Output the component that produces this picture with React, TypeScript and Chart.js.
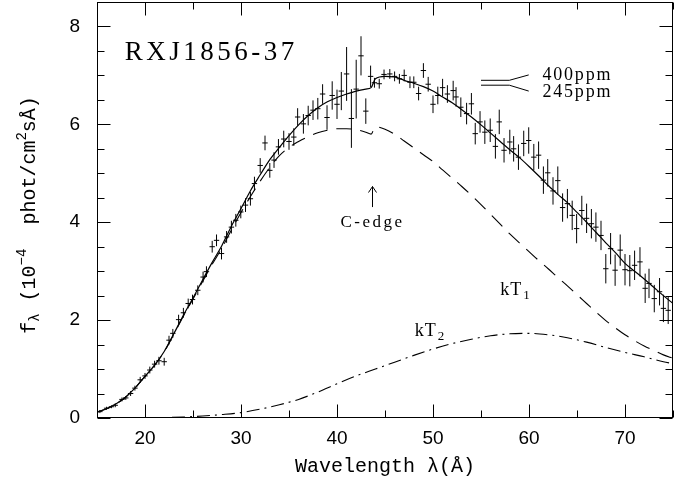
import React, { useEffect, useRef } from 'react';
import { Chart, registerables } from 'chart.js';

Chart.register(...registerables);

// ---- Model curves (wavelength in Å, flux in 1e-4 phot/cm2/s/Å) ----
const modelX = [15, 16, 17, 18, 19, 20, 21, 22, 23, 24, 25, 26, 27, 28, 29, 30, 31, 32, 33, 34, 35, 36, 37, 38, 39, 40, 41, 42, 43, 43.55, 44, 45, 46, 47, 48, 49, 50, 51, 52, 53, 54, 55, 56, 57, 58, 59, 60, 61, 62, 63, 64, 65, 66, 67, 68, 69, 70, 71, 72, 73, 74, 75];
const modelY = [0.12, 0.19, 0.29, 0.43, 0.62, 0.85, 1.08, 1.36, 1.72, 2.1, 2.45, 2.82, 3.18, 3.52, 3.92, 4.28, 4.65, 4.97, 5.28, 5.53, 5.77, 5.99, 6.18, 6.34, 6.46, 6.55, 6.62, 6.68, 6.72, 6.75, 6.93, 6.98, 6.97, 6.9, 6.84, 6.77, 6.68, 6.56, 6.44, 6.3, 6.15, 5.99, 5.82, 5.65, 5.48, 5.32, 5.14, 4.95, 4.75, 4.57, 4.4, 4.2, 4.0, 3.79, 3.58, 3.38, 3.16, 3.0, 2.84, 2.67, 2.5, 2.34];

const kT1X = [15, 16, 17, 18, 19, 20, 21, 22, 23, 24, 25, 26, 27, 28, 29, 30, 31, 32, 33, 34, 35, 36, 37, 38, 39, 40, 41, 42, 43, 43.55, 44, 45, 46, 47, 48, 49, 50, 51, 52, 53, 54, 55, 56, 57, 58, 59, 60, 61, 62, 63, 64, 65, 66, 67, 68, 69, 70, 71, 72, 73, 74, 75];
const kT1Y = [0.12, 0.19, 0.29, 0.43, 0.62, 0.85, 1.08, 1.35, 1.71, 2.08, 2.43, 2.79, 3.14, 3.47, 3.84, 4.2, 4.53, 4.84, 5.12, 5.36, 5.53, 5.65, 5.75, 5.83, 5.88, 5.91, 5.91, 5.89, 5.84, 5.8, 5.95, 5.9, 5.8, 5.66, 5.52, 5.38, 5.24, 5.07, 4.9, 4.73, 4.55, 4.36, 4.16, 3.96, 3.76, 3.58, 3.4, 3.22, 3.05, 2.87, 2.7, 2.52, 2.34, 2.16, 1.99, 1.84, 1.7, 1.58, 1.47, 1.38, 1.29, 1.22];

const kT2X = [15, 18, 20, 22, 24, 26, 28, 30, 32, 34, 36, 38, 40, 42, 44, 46, 48, 50, 52, 54, 56, 58, 60, 62, 64, 66, 68, 70, 72, 74, 75];
const kT2Y = [0, 0, 0.002, 0.008, 0.02, 0.04, 0.07, 0.11, 0.18, 0.27, 0.38, 0.53, 0.7, 0.86, 1.0, 1.14, 1.28, 1.41, 1.52, 1.61, 1.68, 1.72, 1.73, 1.7, 1.64, 1.55, 1.44, 1.34, 1.25, 1.15, 1.11];

// ---- Observed spectrum (bin centre, flux, 1-sigma error) ----
const obsX = [15.3, 16.0, 16.5, 16.9, 17.6, 18.0, 18.5, 18.95, 19.5, 20.0, 20.5, 21.0, 21.45, 22.0, 22.5, 22.9, 23.5, 24.0, 24.5, 24.95, 25.5, 26.05, 26.4, 27.0, 27.45, 27.97, 28.5, 29.0, 29.46, 29.98, 30.47, 30.98, 31.4, 32.0, 32.5, 33.0, 33.44, 33.9, 34.45, 35.0, 35.5, 35.9, 36.5, 37.0, 37.5, 38.0, 38.5, 38.96, 39.5, 40.0, 40.45, 41.0, 41.5, 42.0, 42.5, 43.0, 43.5, 43.9, 44.4, 44.9, 45.5, 46.0, 46.5, 47.0, 47.6, 48.0, 48.5, 49.0, 49.5, 50.0, 50.5, 51.0, 51.5, 52.1, 52.4, 52.9, 53.5, 54.0, 54.4, 54.9, 55.4, 55.96, 56.5, 56.9, 57.4, 58.0, 58.4, 58.9, 59.45, 59.97, 60.5, 61.0, 61.5, 61.95, 62.5, 63.0, 63.5, 64.0, 64.5, 64.96, 65.5, 66.0, 66.5, 66.97, 67.5, 68.0, 68.5, 68.97, 69.5, 70.0, 70.5, 71.0, 71.56, 72.1, 72.5, 73.05, 73.6, 74.0, 74.5];
const obsY = [0.13, 0.2, 0.23, 0.26, 0.38, 0.41, 0.5, 0.61, 0.78, 0.86, 0.98, 1.1, 1.17, 1.15, 1.59, 1.73, 2.01, 2.15, 2.34, 2.42, 2.61, 2.88, 2.99, 3.5, 3.63, 3.36, 3.7, 3.9, 4.04, 4.21, 4.35, 4.48, 4.79, 5.16, 5.62, 5.06, 5.27, 5.54, 5.7, 5.65, 5.74, 6.15, 6.01, 6.18, 6.29, 6.32, 6.62, 6.14, 6.59, 6.41, 6.68, 7.03, 6.12, 6.72, 7.4, 6.27, 6.98, 6.85, 6.83, 7.02, 7.03, 6.98, 6.93, 7.0, 6.86, 6.86, 6.63, 7.1, 6.82, 6.41, 6.59, 6.75, 6.62, 6.69, 6.56, 6.35, 6.22, 6.42, 5.81, 6.05, 5.84, 5.88, 5.55, 6.05, 5.47, 5.64, 5.5, 5.33, 5.61, 5.67, 5.33, 5.37, 4.86, 5.01, 4.64, 4.85, 4.3, 4.38, 4.14, 3.87, 4.24, 4.08, 3.97, 3.9, 3.73, 3.05, 3.46, 3.02, 3.43, 3.03, 3.01, 3.12, 3.19, 2.65, 2.75, 2.44, 2.58, 2.24, 2.2];
const obsErr = [0.03, 0.03, 0.03, 0.04, 0.04, 0.04, 0.05, 0.05, 0.06, 0.06, 0.07, 0.07, 0.08, 0.08, 0.09, 0.09, 0.1, 0.1, 0.1, 0.1, 0.1, 0.11, 0.11, 0.12, 0.12, 0.12, 0.12, 0.13, 0.13, 0.13, 0.14, 0.14, 0.14, 0.15, 0.15, 0.15, 0.16, 0.16, 0.17, 0.17, 0.18, 0.18, 0.2, 0.2, 0.2, 0.22, 0.2, 0.25, 0.29, 0.3, 0.39, 0.55, 0.6, 0.6, 0.4, 0.26, 0.22, 0.1, 0.1, 0.1, 0.1, 0.1, 0.1, 0.12, 0.12, 0.12, 0.14, 0.15, 0.15, 0.18, 0.18, 0.18, 0.18, 0.2, 0.2, 0.2, 0.22, 0.22, 0.22, 0.22, 0.24, 0.24, 0.25, 0.25, 0.25, 0.25, 0.26, 0.26, 0.26, 0.27, 0.27, 0.28, 0.28, 0.28, 0.28, 0.29, 0.29, 0.3, 0.3, 0.3, 0.3, 0.3, 0.3, 0.3, 0.3, 0.3, 0.32, 0.32, 0.32, 0.32, 0.32, 0.3, 0.3, 0.3, 0.3, 0.28, 0.28, 0.28, 0.28];
const binHalfWidth = 0.28;

// ---- Legend pointers for the two model lines ----
const pointerX = [55.0, 57.95, 59.97];
const pointer400Y = [6.9, 6.9, 7.01];
const pointer245Y = [6.8, 6.8, 6.68];
const pointerLabels = ['400ppm', '245ppm'];

// ---- Axes ----
const xTicks = [20, 30, 40, 50, 60, 70];
const yTicks = [0, 2, 4, 6, 8];
const xRange = [15, 75];
const yRange = [0, 8.5];

const objectName = 'RXJ1856-37';
const edgeLabel = 'C-edge';
const xTitle = 'Wavelength λ(Å)';

const pts = (xs: number[], ys: number[]) => xs.map((x, i) => ({ x, y: ys[i] }));

function verticalBars() {
  const out: { x: number; y: number | null }[] = [];
  obsX.forEach((x, i) => {
    out.push({ x, y: obsY[i] - obsErr[i] });
    out.push({ x, y: obsY[i] + obsErr[i] });
    out.push({ x, y: null });
  });
  return out;
}
function horizontalBars() {
  const out: { x: number; y: number | null }[] = [];
  obsX.forEach((x, i) => {
    out.push({ x: x - binHalfWidth, y: obsY[i] });
    out.push({ x: x + binHalfWidth, y: obsY[i] });
    out.push({ x, y: null });
  });
  return out;
}

const frameTicks = {
  id: 'frameTicks',
  afterDraw(chart: any) {
    const { ctx, chartArea: a, scales } = chart;
    const xs = scales.x;
    const ys = scales.y;
    ctx.save();
    ctx.strokeStyle = '#000';
    ctx.lineWidth = 1;
    const L = Math.round(a.left) + 0.5;
    const R = Math.round(a.right) - 0.5;
    const T = Math.round(a.top) + 0.5;
    const B = Math.round(a.bottom) - 0.5;
    ctx.strokeRect(L, T, R - L, B - T);
    ctx.beginPath();
    for (let v = xRange[0]; v <= xRange[1] + 1e-6; v += 5) {
      const p = Math.round(xs.getPixelForValue(v)) + 0.5;
      const len = v % 10 === 0 ? 13 : 7;
      ctx.moveTo(p, B); ctx.lineTo(p, B - len);
      ctx.moveTo(p, T); ctx.lineTo(p, T + len);
    }
    for (let v = yRange[0]; v <= yRange[1] + 1e-6; v += 0.5) {
      const p = Math.round(ys.getPixelForValue(v)) + 0.5;
      const len = Math.abs(v % 2) < 1e-6 ? 13 : 7;
      ctx.moveTo(L, p); ctx.lineTo(L + len, p);
      ctx.moveTo(R, p); ctx.lineTo(R - len, p);
    }
    ctx.stroke();
    ctx.restore();
  },
};

const annotations = {
  id: 'annotations',
  afterDatasetsDraw(chart: any) {
    const { ctx, scales } = chart;
    const px = (v: number) => scales.x.getPixelForValue(v);
    const py = (v: number) => scales.y.getPixelForValue(v);
    ctx.save();
    ctx.fillStyle = '#000';
    ctx.strokeStyle = '#000';
    ctx.textAlign = 'left';
    ctx.textBaseline = 'alphabetic';

    // object name
    ctx.font = '27px "Liberation Serif"';
    (ctx as any).letterSpacing = '3.5px';
    ctx.fillText(objectName, px(17.9), py(7.31));

    // legend pointer labels
    ctx.font = '18px "Liberation Serif"';
    (ctx as any).letterSpacing = '1.8px';
    ctx.textBaseline = 'middle';
    ctx.fillText(pointerLabels[0], px(61.4), py(7.0));
    ctx.fillText(pointerLabels[1], px(61.4), py(6.66));

    // C-edge
    ctx.textAlign = 'center';
    ctx.font = '17px "Liberation Serif"';
    (ctx as any).letterSpacing = '2.5px';
    ctx.fillText(edgeLabel, px(43.6) + 1, py(4.0));
    (ctx as any).letterSpacing = '0px';

    // arrow
    ctx.lineWidth = 1;
    const ax = Math.round(px(43.6)) + 0.5;
    const y0 = py(4.31);
    const y1 = py(4.73);
    ctx.beginPath();
    ctx.moveTo(ax, y0); ctx.lineTo(ax, y1);
    ctx.moveTo(ax - 4, y1 + 6); ctx.lineTo(ax, y1); ctx.lineTo(ax + 4, y1 + 6);
    ctx.stroke();

    // kT labels
    const kt = (sub: string, x: number, y: number) => {
      ctx.textAlign = 'left';
      ctx.textBaseline = 'alphabetic';
      ctx.font = '18px "Liberation Serif"';
      (ctx as any).letterSpacing = '1px';
      const X = px(x);
      const Y = py(y);
      ctx.fillText('kT', X, Y);
      const w = ctx.measureText('kT').width;
      ctx.font = '13px "Liberation Serif"';
      ctx.fillText(sub, X + w + 1, Y + 4);
      (ctx as any).letterSpacing = '0px';
    };
    kt('1', 57.0, 2.51);
    kt('2', 48.1, 1.67);

    ctx.restore();
  },
};

const yTitle = {
  id: 'yTitle',
  afterDraw(chart: any) {
    const { ctx } = chart;
    const big = '20px "Liberation Mono"';
    const small = '14px "Liberation Mono"';
    const pieces = [
      { t: 'f', f: big, dy: 0 },
      { t: 'λ', f: small, dy: 5 },
      { t: ' (10', f: big, dy: 0 },
      { t: '−4', f: small, dy: -8 },
      { t: '  phot/cm', f: big, dy: 0 },
      { t: '2', f: small, dy: -8 },
      { t: 'sÅ)', f: big, dy: 0 },
    ];
    ctx.save();
    ctx.fillStyle = '#000';
    ctx.textBaseline = 'middle';
    ctx.textAlign = 'left';
    let total = 0;
    pieces.forEach((p) => { ctx.font = p.f; total += ctx.measureText(p.t).width; });
    ctx.translate(30, 215);
    ctx.rotate(-Math.PI / 2);
    let cx = -total / 2;
    pieces.forEach((p) => {
      ctx.font = p.f;
      ctx.fillText(p.t, cx, p.dy);
      cx += ctx.measureText(p.t).width;
    });
    ctx.restore();
  },
};

export default function App() {
  const ref = useRef<HTMLCanvasElement | null>(null);
  useEffect(() => {
    if (!ref.current) return;
    const common = { pointRadius: 0, pointHoverRadius: 0, fill: false, borderColor: '#000' };
    const chart = new Chart(ref.current, {
      type: 'line',
      data: {
        datasets: [
          { ...common, label: 'total', data: pts(modelX, modelY), borderWidth: 1.2, cubicInterpolationMode: 'monotone' },
          { ...common, label: 'kT1', data: pts(kT1X, kT1Y), borderWidth: 1.1, borderDash: [15, 9], cubicInterpolationMode: 'monotone' },
          { ...common, label: 'kT2', data: pts(kT2X, kT2Y), borderWidth: 1.1, borderDash: [13, 5, 2, 5], cubicInterpolationMode: 'monotone' },
          { ...common, label: 'errY', data: verticalBars(), borderWidth: 1, spanGaps: false, tension: 0 },
          { ...common, label: 'errX', data: horizontalBars(), borderWidth: 1, spanGaps: false, tension: 0 },
          { ...common, label: '400ppm', data: pts(pointerX, pointer400Y), borderWidth: 1, tension: 0 },
          { ...common, label: '245ppm', data: pts(pointerX, pointer245Y), borderWidth: 1, tension: 0 },
        ] as any,
      },
      options: {
        animation: false,
        responsive: false,
        devicePixelRatio: 1,
        events: [],
        layout: { padding: { top: 2, right: 14, left: 0, bottom: 0 } },
        plugins: { legend: { display: false }, tooltip: { enabled: false }, title: { display: false } },
        scales: {
          x: {
            type: 'linear',
            min: xRange[0],
            max: xRange[1],
            grid: { display: false, drawTicks: false },
            border: { display: false },
            ticks: { padding: 9, color: '#000', font: { family: 'Liberation Sans', size: 19 }, maxRotation: 0 },
            afterBuildTicks: (s: any) => { s.ticks = xTicks.map((value) => ({ value })); },
            afterFit: (s: any) => { s.height = 67; s.paddingLeft = 0; s.paddingRight = 0; },
            title: { display: true, text: xTitle, color: '#000', font: { family: 'Liberation Mono', size: 20 }, padding: { top: 0, bottom: 6 } },
          },
          y: {
            type: 'linear',
            min: yRange[0],
            max: yRange[1],
            grid: { display: false, drawTicks: false },
            border: { display: false },
            ticks: { padding: 17, color: '#000', font: { family: 'Liberation Sans', size: 19 } },
            afterBuildTicks: (s: any) => { s.ticks = yTicks.map((value) => ({ value })); },
            afterFit: (s: any) => { s.width = 97; s.paddingTop = 0; s.paddingBottom = 0; },
          },
        },
      } as any,
      plugins: [annotations, frameTicks, yTitle],
    });
    return () => chart.destroy();
  }, []);
  return (
    <div style={{ position: 'absolute', left: 0, top: 0, width: 687, height: 485, background: '#fff' }}>
      <canvas ref={ref} width={687} height={485} />
    </div>
  );
}
